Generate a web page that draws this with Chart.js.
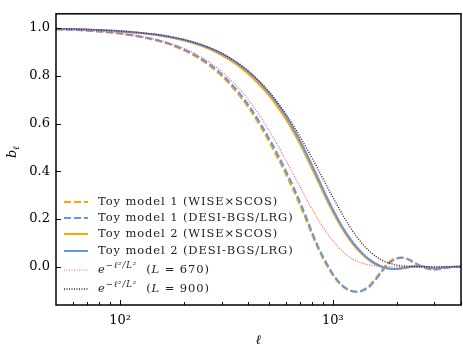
<!DOCTYPE html>
<html>
<head>
<meta charset="utf-8">
<script src="https://cdn.jsdelivr.net/npm/chart.js@4"></script>
<style>
    html, body { margin: 0; padding: 0; background: #fff; }
</style>
</head>
<body>
<canvas id="chart" width="463" height="349"></canvas>
<script>
// Multipoles (x values)
const ells = [
    50, 60, 70, 80, 100, 120, 150, 180, 220, 260,
    300, 350, 400, 450, 500, 550, 600, 650, 700, 750,
    800, 850, 900, 950, 1000, 1100, 1200, 1300, 1400, 1500,
    1600, 1700, 1800, 1900, 2000, 2100, 2200, 2300, 2400, 2600,
    2800, 3000, 3200, 3500, 3800, 4000
];

// Toy model 1 (dashed)
const toy1Wise = [
    0.995, 0.993, 0.990, 0.986, 0.977, 0.966, 0.947, 0.924, 0.888, 0.846,
    0.800, 0.736, 0.669, 0.598, 0.527, 0.457, 0.390, 0.324, 0.259, 0.195,
    0.133, 0.079, 0.034, -0.003, -0.035, -0.080, -0.100, -0.104, -0.095, -0.074,
    -0.045, -0.014, 0.012, 0.029, 0.037, 0.039, 0.035, 0.027, 0.017, 0.001,
    -0.009, -0.012, -0.008, -0.002, 0.000, 0.000
];
const toy1Desi = [
    0.995, 0.993, 0.990, 0.986, 0.978, 0.967, 0.949, 0.927, 0.892, 0.852,
    0.807, 0.745, 0.679, 0.610, 0.540, 0.471, 0.404, 0.338, 0.272, 0.207,
    0.143, 0.087, 0.041, 0.003, -0.030, -0.076, -0.098, -0.105, -0.098, -0.079,
    -0.051, -0.020, 0.007, 0.025, 0.035, 0.038, 0.036, 0.029, 0.019, 0.003,
    -0.007, -0.011, -0.009, -0.003, 0.000, 0.000
];

// Toy model 2 (solid)
const toy2Wise = [
    0.997, 0.996, 0.994, 0.991, 0.986, 0.980, 0.970, 0.957, 0.937, 0.914,
    0.887, 0.850, 0.809, 0.765, 0.719, 0.670, 0.620, 0.568, 0.515, 0.462,
    0.410, 0.360, 0.313, 0.269, 0.230, 0.164, 0.113, 0.074, 0.045, 0.024,
    0.009, -0.001, -0.007, -0.009, -0.008, -0.006, -0.003, 0.000, 0.002, 0.002,
    -0.003, -0.007, -0.005, -0.001, 0.000, 0.000
];
const toy2Desi = [
    0.997, 0.996, 0.994, 0.992, 0.987, 0.982, 0.972, 0.960, 0.941, 0.919,
    0.893, 0.857, 0.818, 0.775, 0.730, 0.683, 0.634, 0.582, 0.529, 0.476,
    0.424, 0.373, 0.325, 0.280, 0.240, 0.172, 0.120, 0.080, 0.050, 0.028,
    0.012, 0.001, -0.006, -0.009, -0.009, -0.007, -0.004, -0.001, 0.001, 0.002,
    -0.002, -0.007, -0.005, -0.001, 0.000, 0.000
];

// Gaussian beams (dotted)
const gaussL670 = [
    0.994, 0.992, 0.989, 0.986, 0.978, 0.968, 0.951, 0.930, 0.898, 0.860,
    0.818, 0.761, 0.700, 0.637, 0.573, 0.510, 0.448, 0.390, 0.336, 0.286,
    0.240, 0.200, 0.165, 0.134, 0.108, 0.068, 0.040, 0.023, 0.013, 0.007,
    0.003, 0.002, 0.001, 0.000, 0.000, 0.000, 0.000, 0.000, 0.000, 0.000,
    0.000, 0.000, 0.000, 0.000, 0.000, 0.000
];
const gaussL900 = [
    0.997, 0.996, 0.994, 0.992, 0.988, 0.982, 0.973, 0.961, 0.942, 0.920,
    0.895, 0.860, 0.821, 0.779, 0.735, 0.688, 0.641, 0.594, 0.546, 0.499,
    0.454, 0.410, 0.368, 0.328, 0.291, 0.225, 0.169, 0.124, 0.089, 0.062,
    0.042, 0.028, 0.018, 0.012, 0.007, 0.004, 0.003, 0.002, 0.001, 0.000,
    0.000, 0.000, 0.000, 0.000, 0.000, 0.000
];

// Axis ticks
const yTicks = [0.0, 0.2, 0.4, 0.6, 0.8, 1.0];
const xMajorTicks = [100, 1000];
const xMajorLabels = ['10\u00B2', '10\u00B3'];
const xMinorTicks = [60, 70, 80, 90, 200, 300, 400, 500, 600, 700, 800, 900, 2000, 3000, 4000];

const SERIF = '"DejaVu Serif", "Liberation Serif", serif';
const ORANGE = '#ffa500';
const BLUE = '#6495ed';
const RED = '#ff5c5c';
const BROWN = '#5a1818';

function points(values) {
    return ells.map((l, i) => ({ x: l, y: values[i] }));
}

function makeSet(label, values, color, width, dash, order) {
    return {
        label: label,
        data: points(values),
        borderColor: color,
        backgroundColor: color,
        borderWidth: width,
        borderDash: dash,
        pointRadius: 0,
        fill: false,
        cubicInterpolationMode: 'monotone',
        order: order
    };
}

// legend rows: text runs are [text, size, style, raise]
const legendRows = [
    { runs: [['Toy model 1 (WISE\u00D7SCOS)', '11.5px', '', 0]], color: ORANGE, width: 2, dash: [7, 3] },
    { runs: [['Toy model 1 (DESI-BGS/LRG)', '11.5px', '', 0]], color: BLUE, width: 2, dash: [7, 3] },
    { runs: [['Toy model 2 (WISE\u00D7SCOS)', '11.5px', '', 0]], color: ORANGE, width: 2, dash: [] },
    { runs: [['Toy model 2 (DESI-BGS/LRG)', '11.5px', '', 0]], color: BLUE, width: 2, dash: [] },
    { runs: [['e', '11.5px', 'italic ', 0], ['\u2212\u2113\u00B2/L\u00B2', '8.5px', 'italic ', -4], ['  (', '11.5px', '', 0], ['L', '11.5px', 'italic ', 0], [' = 670)', '11.5px', '', 0]], color: RED, width: 1.2, dash: [1, 1.5] },
    { runs: [['e', '11.5px', 'italic ', 0], ['\u2212\u2113\u00B2/L\u00B2', '8.5px', 'italic ', -4], ['  (', '11.5px', '', 0], ['L', '11.5px', 'italic ', 0], [' = 900)', '11.5px', '', 0]], color: BROWN, width: 1.4, dash: [1, 1.5] }
];
const legendRowY = [202, 218, 234, 251, 270, 289];

const decorations = {
    id: 'decorations',
    afterDraw(chart) {
        const { ctx, chartArea: a, scales: { x, y } } = chart;
        ctx.save();

        // inward ticks
        ctx.strokeStyle = '#000';
        ctx.lineWidth = 1;
        ctx.beginPath();
        yTicks.forEach(v => {
            const py = Math.round(y.getPixelForValue(v)) + 0.5;
            ctx.moveTo(a.left, py);
            ctx.lineTo(a.left + 5, py);
        });
        xMajorTicks.forEach(v => {
            const px = Math.round(x.getPixelForValue(v)) + 0.5;
            ctx.moveTo(px, a.bottom);
            ctx.lineTo(px, a.bottom - 5);
        });
        xMinorTicks.forEach(v => {
            const px = Math.round(x.getPixelForValue(v)) + 0.5;
            ctx.moveTo(px, a.bottom);
            ctx.lineTo(px, a.bottom - 3);
        });
        ctx.stroke();

        // frame
        ctx.lineWidth = 1.5;
        ctx.strokeRect(a.left, a.top, a.right - a.left, a.bottom - a.top);

        // legend
        legendRows.forEach((row, i) => {
            const ly = legendRowY[i];
            ctx.strokeStyle = row.color;
            ctx.lineWidth = row.width;
            ctx.setLineDash(row.dash);
            ctx.beginPath();
            ctx.moveTo(64, ly);
            ctx.lineTo(88, ly);
            ctx.stroke();
            ctx.setLineDash([]);
            ctx.fillStyle = '#222';
            ctx.textBaseline = 'middle';
            ctx.letterSpacing = '0.9px';
            let tx = 98;
            row.runs.forEach(([t, size, style, dy]) => {
                ctx.font = style + size + ' ' + SERIF;
                ctx.fillText(t, tx, ly + dy);
                tx += ctx.measureText(t).width;
            });
            ctx.letterSpacing = '0px';
        });

        // axis titles
        ctx.fillStyle = '#000';
        ctx.textBaseline = 'alphabetic';
        ctx.textAlign = 'center';
        ctx.font = 'italic 13px ' + SERIF;
        ctx.fillText('\u2113', (a.left + a.right) / 2, 344);

        ctx.translate(16, 152);
        ctx.rotate(-Math.PI / 2);
        ctx.textAlign = 'left';
        ctx.font = 'italic 13px ' + SERIF;
        ctx.fillText('b', -6, 0);
        ctx.font = 'italic 9px ' + SERIF;
        ctx.fillText('\u2113', 2, 3);
        ctx.restore();
    }
};

new Chart(document.getElementById('chart'), {
    type: 'line',
    data: {
        datasets: [
            makeSet('Toy model 1 (WISE\u00D7SCOS)', toy1Wise, ORANGE, 2, [7, 3], 6),
            makeSet('Toy model 1 (DESI-BGS/LRG)', toy1Desi, BLUE, 2, [7, 3], 5),
            makeSet('Toy model 2 (WISE\u00D7SCOS)', toy2Wise, ORANGE, 2, [], 4),
            makeSet('Toy model 2 (DESI-BGS/LRG)', toy2Desi, BLUE, 2, [], 3),
            makeSet('L = 670', gaussL670, RED, 1.2, [1, 1.5], 2),
            makeSet('L = 900', gaussL900, BROWN, 1.4, [1, 1.5], 1)
        ]
    },
    options: {
        responsive: false,
        animation: false,
        devicePixelRatio: 1,
        layout: { padding: { top: 3, right: 2, left: 0, bottom: 0 } },
        plugins: {
            legend: { display: false },
            tooltip: { enabled: false }
        },
        scales: {
            x: {
                type: 'logarithmic',
                min: 50,
                max: 4000,
                grid: { display: false, drawTicks: false },
                border: { display: false },
                afterBuildTicks: scale => {
                    scale.ticks = xMajorTicks.map(v => ({ value: v, major: true }));
                },
                afterFit: scale => { scale.height = 44; },
                ticks: {
                    autoSkip: false,
                    maxRotation: 0,
                    padding: 8,
                    color: '#000',
                    font: { family: SERIF, size: 13 },
                    callback: value => xMajorLabels[xMajorTicks.indexOf(value)] || ''
                }
            },
            y: {
                min: -0.16,
                max: 1.06,
                grid: { display: false, drawTicks: false },
                border: { display: false },
                afterBuildTicks: scale => {
                    scale.ticks = yTicks.map(v => ({ value: v }));
                },
                afterFit: scale => { scale.width = 56; },
                ticks: {
                    padding: 6,
                    color: '#000',
                    font: { family: SERIF, size: 13 },
                    callback: value => value.toFixed(1)
                }
            }
        }
    },
    plugins: [decorations]
});
</script>
</body>
</html>
